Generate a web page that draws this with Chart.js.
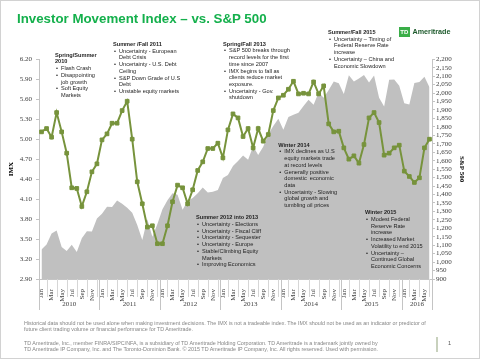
<!DOCTYPE html>
<html>
<head>
<meta charset="utf-8">
<script src="https://cdn.jsdelivr.net/npm/chart.js@4.4.0/dist/chart.umd.min.js"></script>
<style>
html, body { margin: 0; padding: 0; background: #fff; }
#page { position: relative; width: 480px; height: 361px; overflow: hidden; font-family: "Liberation Sans", Arial, sans-serif; }
#frame { position: absolute; left: 0; top: 0; width: 478px; height: 357px; border: 1px solid #d2d2d2; }
#chart { position: absolute; left: 0; top: 0; }
.t { position: absolute; white-space: nowrap; }
#title { left: 17px; top: 11.7px; font-size: 13.3px; line-height: 13.3px; font-weight: bold; color: #14b04c; }
.note { position: absolute; font-size: 5.6px; line-height: 6.7px; color: #1e1e1e; white-space: nowrap; }
.note b { display: block; }
.note div { position: relative; padding-left: 6px; }
.note div:before { content: "\2022"; position: absolute; left: 1px; }
#foot { position: absolute; left: 24px; top: 320px; color: #858585; font-size: 4.9px; line-height: 6.2px; white-space: nowrap; }
#foot p { margin: 0; }
</style>
</head>
<body>
<div id="page">
  <div id="frame"></div>
  <canvas id="chart" width="480" height="361"></canvas>

  <div id="title" class="t">Investor Movement Index – vs. S&amp;P 500</div>

  <div class="t" style="left:399px;top:26.5px;width:10.5px;height:10.5px;background:#3aae48;color:#fff;font-size:6px;font-weight:bold;line-height:10.5px;text-align:center;">TD</div>
  <div class="t" style="left:412.5px;top:27px;font-size:7.2px;line-height:9px;font-weight:bold;color:#1d5a2c;">Ameritrade</div>

  <div class="note" style="left:55px;top:51.7px;">
    <b>Spring/Summer<br>2010</b>
    <div>Flash Crash</div>
    <div>Disappointing<br>job growth</div>
    <div>Soft Equity<br>Markets</div>
  </div>

  <div class="note" style="left:113px;top:41px;">
    <b>Summer /Fall 2011</b>
    <div>Uncertainty - European<br>Debt Crisis</div>
    <div>Uncertainty - U.S. Debt<br>Ceiling</div>
    <div>S&amp;P Down Grade of U.S<br>Debt</div>
    <div>Unstable equity markets</div>
  </div>

  <div class="note" style="left:223px;top:40.7px;">
    <b>Spring/Fall 2013</b>
    <div>S&amp;P 500 breaks through<br>record levels for the first<br>time since 2007</div>
    <div>IMX begins to fall as<br>clients reduce market<br>exposure.</div>
    <div>Uncertainty - Gov.<br>shutdown</div>
  </div>

  <div class="note" style="left:328px;top:29px;">
    <b>Summer/Fall 2015</b>
    <div>Uncertainty – Timing of<br>Federal Reserve Rate<br>increase</div>
    <div>Uncertainty – China and<br>Economic Slowdown</div>
  </div>

  <div class="note" style="left:278.3px;top:141.7px;">
    <b>Winter 2014</b>
    <div>IMX declines as U.S<br>equity markets trade<br>at record levels</div>
    <div>Generally positive<br>domestic&nbsp; economic<br>data</div>
    <div>Uncertainty - Slowing<br>global growth and<br>tumbling oil prices</div>
  </div>

  <div class="note" style="left:196px;top:214.3px;">
    <b>Summer 2012 into 2013</b>
    <div>Uncertainty - Elections</div>
    <div>Uncertainty - Fiscal Cliff</div>
    <div>Uncertainty - Sequester</div>
    <div>Uncertainty - Europe</div>
    <div>Stable/Climbing Equity<br>Markets</div>
    <div>Improving Economics</div>
  </div>

  <div class="note" style="left:365px;top:209.3px;">
    <b>Winter 2015</b>
    <div>Modest Federal<br>Reserve Rate<br>increase</div>
    <div>Increased Market<br>Volatility to end 2015</div>
    <div>Uncertainty –<br>Continued Global<br>Economic Concerns</div>
  </div>

  <div id="foot">
    <p id="fn1">Historical data should not be used alone when making investment decisions. The IMX is not a tradeable index. The IMX should not be used as an indicator or predictor of</p>
    <p>future client trading volume or financial performance for TD Ameritrade.</p>
    <p style="margin-top:7.8px;">TD Ameritrade, Inc., member FINRA/SIPC/NFA, is a subsidiary of TD Ameritrade Holding Corporation. TD Ameritrade is a trademark jointly owned by</p>
    <p>TD Ameritrade IP Company, Inc. and The Toronto-Dominion Bank. © 2015 TD Ameritrade IP Company, Inc. All rights reserved. Used with permission.</p>
  </div>

  <div class="t" style="left:436px;top:337px;width:1.5px;height:15px;background:#c8d1bd;"></div>
  <div class="t" style="left:448px;top:340px;font-size:5.6px;line-height:6.7px;color:#555;">1</div>
</div>

<script>
// categories
const years = ['2010', '2011', '2012', '2013', '2014', '2015', '2016'];
const monthsInYear = [12, 12, 12, 12, 12, 12, 6];
const monthNames = ['Jan', 'Feb', 'Mar', 'Apr', 'May', 'Jun', 'Jul', 'Aug', 'Sep', 'Oct', 'Nov', 'Dec'];

// IMX (left axis), monthly Jan 2010 - Jun 2016
const imx = [
  5.11, 5.16, 5.03, 5.40, 5.11, 4.79, 4.27, 4.26, 3.99, 4.21, 4.51, 4.63, // 2010
  4.99, 5.08, 5.24, 5.24, 5.43, 5.57, 5.00, 4.36, 4.03, 3.68, 3.70, 3.43, // 2011
  3.43, 3.70, 4.06, 4.31, 4.27, 4.03, 4.24, 4.53, 4.66, 4.86, 4.86, 4.94, // 2012
  4.72, 5.14, 5.38, 5.32, 5.04, 5.16, 4.87, 5.16, 4.97, 5.07, 5.43, 5.62, // 2013
  5.66, 5.75, 5.87, 5.68, 5.69, 5.68, 5.86, 5.68, 5.80, 5.23, 5.11, 5.12, // 2014
  4.87, 4.70, 4.75, 4.64, 4.92, 5.32, 5.40, 5.25, 4.76, 4.79, 4.87, 4.91, // 2015
  4.52, 4.44, 4.35, 4.42, 4.87, 5.00                                      // 2016
];

// S&P 500 (right axis)
const spx = [
  1074, 1104, 1169, 1187, 1089, 1065, 1102, 1060, 1141, 1183, 1181, 1258,
  1286, 1327, 1326, 1364, 1345, 1321, 1292, 1219, 1131, 1253, 1150, 1225,
  1312, 1366, 1408, 1398, 1310, 1362, 1379, 1407, 1441, 1412, 1416, 1426,
  1498, 1515, 1569, 1598, 1631, 1606, 1686, 1633, 1682, 1757, 1806, 1848,
  1783, 1859, 1872, 1884, 1924, 1960, 1931, 2003, 1972, 2018, 2068, 2059,
  1995, 2105, 2068, 2086, 2107, 2063, 2104, 1972, 1920, 2079, 2080, 2044,
  1940, 1932, 2060, 2065, 2097, 2035
];

const labels = years.flatMap((y, k) => monthNames.slice(0, monthsInYear[k]));

const axisFont = { family: 'Liberation Serif', size: 7 };
const lineCol = '#c4c4c4';

// year row under the month labels
const yearRow = {
  id: 'yearRow',
  afterDraw(chart) {
    const { ctx, chartArea } = chart;
    const x = chart.scales.x;
    const w = x.getPixelForValue(1) - x.getPixelForValue(0);
    const b = chartArea.bottom;
    ctx.save();
    ctx.strokeStyle = '#d6d6d6';
    ctx.lineWidth = 1;
    for (let i = 1; i < labels.length; i += 2) {
      const px = Math.round(x.getPixelForValue(i)) + 0.5;
      ctx.beginPath(); ctx.moveTo(px, b); ctx.lineTo(px, b + 18); ctx.stroke();
    }
    ctx.strokeStyle = lineCol;
    ctx.fillStyle = '#404040';
    ctx.font = '7px "Liberation Serif"';
    ctx.textAlign = 'center';
    ctx.textBaseline = 'middle';
    let start = 0;
    years.forEach((yr, k) => {
      const n = monthsInYear[k];
      const x0 = x.getPixelForValue(start) - w / 2;
      const x1 = x.getPixelForValue(start + n - 1) + w / 2;
      [x0, x1].forEach(p => {
        const px = Math.round(p) + 0.5;
        ctx.beginPath(); ctx.moveTo(px, b); ctx.lineTo(px, b + 31); ctx.stroke();
      });
      ctx.fillText(yr, (x0 + x1) / 2, 304.5);
      start += n;
    });
    ctx.restore();
  }
};

const ctx = document.getElementById('chart').getContext('2d');
new Chart(ctx, {
  data: {
    labels: labels,
    datasets: [
      {
        type: 'line',
        label: 'IMX',
        data: imx,
        yAxisID: 'yImx',
        borderColor: '#77933c',
        backgroundColor: '#77933c',
        borderWidth: 2,
        pointStyle: 'rect',
        pointRadius: 2.6,
        pointBorderWidth: 1,
        tension: 0,
        order: 0
      },
      {
        type: 'line',
        label: 'S&P 500',
        data: spx,
        yAxisID: 'ySpx',
        fill: 'start',
        backgroundColor: '#c0c0c0',
        borderColor: 'transparent',
        borderWidth: 0,
        pointRadius: 0,
        tension: 0,
        order: 1
      }
    ]
  },
  options: {
    responsive: false,
    animation: false,
    events: [],
    layout: { padding: { top: 59.3, left: 0, right: 0, bottom: 0 } },
    plugins: { legend: { display: false }, tooltip: { enabled: false } },
    scales: {
      x: {
        type: 'category',
        offset: true,
        grid: { display: false },
        border: { display: true, color: lineCol },
        ticks: {
          autoSkip: false, maxRotation: 90, minRotation: 90, padding: 2,
          font: axisFont, color: '#404040',
          callback: (v, i) => (i % 2 === 0 ? labels[i] : '')
        },
        afterFit: s => { s.height = 82; }
      },
      yImx: {
        position: 'left',
        min: 2.9, max: 6.2,
        grid: { drawOnChartArea: false, tickLength: 3, color: lineCol },
        border: { color: lineCol },
        ticks: {
          stepSize: 0.3, autoSkip: false, padding: 4,
          font: axisFont, color: '#404040',
          callback: v => Number(v).toFixed(2)
        },
        title: {
          display: true, text: 'IMX', color: '#000',
          font: { family: 'Liberation Serif', size: 7, weight: 'bold' },
          padding: { top: 7.3, bottom: 0 }
        },
        afterFit: s => { s.width = 39; }
      },
      ySpx: {
        position: 'right',
        min: 900, max: 2200,
        grid: { drawOnChartArea: false, tickLength: 3, color: lineCol },
        border: { color: lineCol },
        ticks: {
          stepSize: 50, autoSkip: false, padding: 1,
          font: axisFont, color: '#404040',
          callback: v => Number(v).toLocaleString('en-US')
        },
        title: {
          display: true, text: 'S&P 500', color: '#000',
          font: { family: 'Liberation Serif', size: 7, weight: 'bold' },
          padding: { top: 13.8, bottom: 0 }
        },
        afterFit: s => { s.width = 48; }
      }
    }
  },
  plugins: [yearRow]
});

// size the footnote so its first line spans the same width as in the slide
const fn1 = document.getElementById('fn1');
const foot = document.getElementById('foot');
const w0 = fn1.getBoundingClientRect().width;
foot.style.fontSize = (4.9 * 402 / w0) + 'px';
</script>
</body>
</html>
